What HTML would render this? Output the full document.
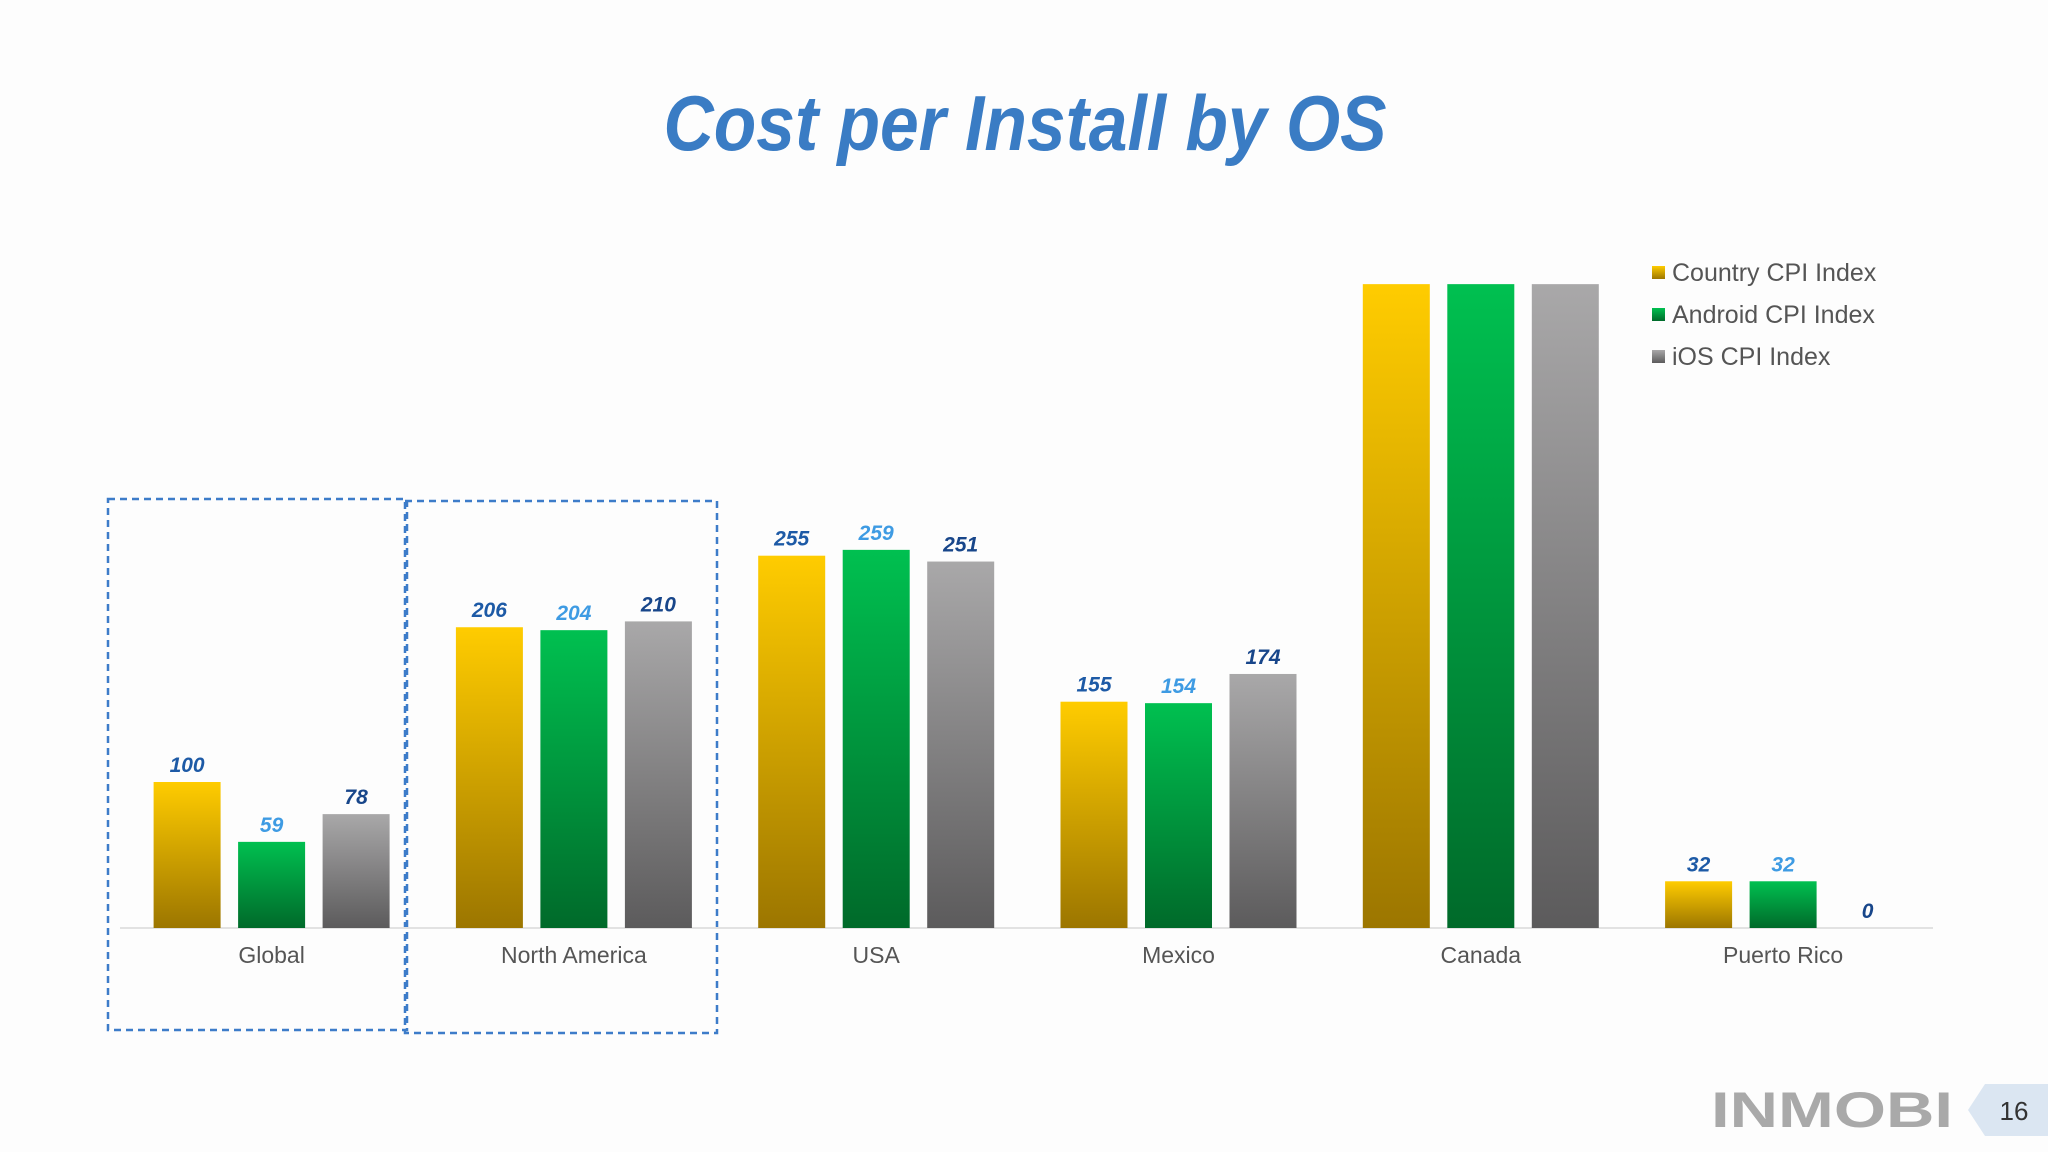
<!DOCTYPE html>
<html><head><meta charset="utf-8"><style>
html,body{margin:0;padding:0;background:#fdfdfd;}
svg{display:block;}
</style></head><body>
<svg id="chart" width="2048" height="1152" viewBox="0 0 2048 1152" xmlns="http://www.w3.org/2000/svg">
<defs>
<linearGradient id="gY" x1="0" y1="0" x2="0" y2="1"><stop offset="0" stop-color="#ffcc00"/><stop offset="1" stop-color="#9c7600"/></linearGradient>
<linearGradient id="gG" x1="0" y1="0" x2="0" y2="1"><stop offset="0" stop-color="#00c050"/><stop offset="1" stop-color="#006a2a"/></linearGradient>
<linearGradient id="gS" x1="0" y1="0" x2="0" y2="1"><stop offset="0" stop-color="#a9a8a9"/><stop offset="1" stop-color="#5c5b5c"/></linearGradient>
</defs>
<rect width="2048" height="1152" fill="#fdfdfd"/>
<text x="1025" y="150" text-anchor="middle" textLength="723" lengthAdjust="spacingAndGlyphs" font-family="Liberation Sans, sans-serif" font-weight="bold" font-style="italic" font-size="78" fill="#3a7cc4">Cost per Install by OS</text>
<rect x="108" y="499" width="299" height="531" fill="none" stroke="#3d7cc9" stroke-width="2.5" stroke-dasharray="7,5"/>
<rect x="405" y="501" width="312" height="532" fill="none" stroke="#3d7cc9" stroke-width="2.5" stroke-dasharray="7,5"/>
<line x1="120" y1="928" x2="1933" y2="928" stroke="#e2e2e2" stroke-width="2"/>
<g id="bars"></g>
<g>
<rect x="1652" y="266" width="13" height="13" fill="url(#gY)"/>
<text x="1672" y="281" font-family="Liberation Sans, sans-serif" font-size="25" fill="#555">Country CPI Index</text>
<rect x="1652" y="308" width="13" height="13" fill="url(#gG)"/>
<text x="1672" y="323" font-family="Liberation Sans, sans-serif" font-size="25" fill="#555">Android CPI Index</text>
<rect x="1652" y="350" width="13" height="13" fill="url(#gS)"/>
<text x="1672" y="365" font-family="Liberation Sans, sans-serif" font-size="25" fill="#555">iOS CPI Index</text>
</g>
<text x="1711" y="1127" textLength="242" lengthAdjust="spacingAndGlyphs" font-family="Liberation Sans, sans-serif" font-weight="bold" font-size="50" fill="#a9a9a9">INMOBI</text>
<polygon points="1985,1084 2048,1084 2048,1136 1985,1136 1968,1110" fill="#dbe6f2"/>
<text x="2014" y="1120" text-anchor="middle" font-family="Liberation Sans, sans-serif" font-size="26" fill="#333">16</text>
</svg>
<script>
const categories = ["Global","North America","USA","Mexico","Canada","Puerto Rico"];
const countryValues = [100,206,255,155,441,32];
const androidValues = [59,204,259,154,441,32];
const iosValues = [78,210,251,174,441,0];
const showLabels = [true,true,true,true,false,true];
const seriesNames = ["country","android","ios"];

const NS="http://www.w3.org/2000/svg";
const baseY=928, pxPerUnit=1.46, firstCenter=271.6, groupStep=302.3, barStep=84.5, barW=67;
const fills=["url(#gY)","url(#gG)","url(#gS)"];
const labelColors=["#1d5aa6","#3e9be3","#18468a"];
function yScale(v){return baseY - v*pxPerUnit;}
function xCenter(i){return firstCenter + i*groupStep;}
const g=document.getElementById('bars');
const all=[countryValues,androidValues,iosValues];
categories.forEach((c,i)=>{
  all.forEach((vals,s)=>{
    const v=vals[i];
    const cx=xCenter(i)+(s-1)*barStep;
    const r=document.createElementNS(NS,'rect');
    r.setAttribute('x',cx-barW/2);
    r.setAttribute('y',yScale(v));
    r.setAttribute('width',barW);
    r.setAttribute('height',Math.max(0,baseY-yScale(v)));
    r.setAttribute('fill',fills[s]);
    
    
    g.appendChild(r);
    if(showLabels[i]){
      const t=document.createElementNS(NS,'text');
      t.setAttribute('x',cx);
      t.setAttribute('y',yScale(v)-10);
      t.setAttribute('text-anchor','middle');
      t.setAttribute('font-family','Liberation Sans, sans-serif');
      t.setAttribute('font-weight','bold');
      t.setAttribute('font-style','italic');
      t.setAttribute('font-size','21');
      t.setAttribute('fill',labelColors[s]);
      t.textContent=v;
      
      
      g.appendChild(t);
    }
  });
  const ct=document.createElementNS(NS,'text');
  ct.setAttribute('x',xCenter(i));
  ct.setAttribute('y',963);
  ct.setAttribute('text-anchor','middle');
  ct.setAttribute('font-family','Liberation Sans, sans-serif');
  ct.setAttribute('font-size','23');
  ct.setAttribute('fill','#555');
  ct.textContent=c;
  
  
  g.appendChild(ct);
});
</script>
</body></html>
